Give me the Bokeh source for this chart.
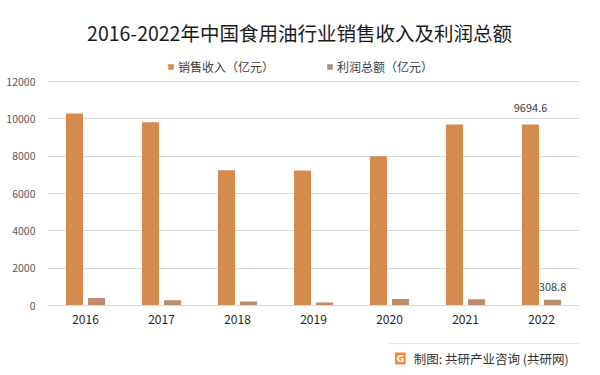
from bokeh.plotting import figure
from bokeh.models import (ColumnDataSource, FactorRange, Range1d, Legend, Label,
                          LegendItem, FixedTicker, NumeralTickFormatter)
from bokeh.layouts import column
from bokeh.transform import dodge
from bokeh.embed import file_html
from bokeh.resources import INLINE
from bokeh.core.properties import value

years = ["2016", "2017", "2018", "2019", "2020", "2021", "2022"]
revenue = [10290, 9815, 7240, 7230, 8000, 9690, 9694.6]
profit = [400, 280, 220, 160, 350, 340, 308.8]
y_ticks = [0, 2000, 4000, 6000, 8000, 10000, 12000]
series_names = ["销售收入（亿元）", "利润总额（亿元）"]
title_text = "2016-2022年中国食用油行业销售收入及利润总额"
footer_text = "制图: 共研产业咨询 (共研网)"

FONT = "Noto Sans CJK SC"
C_REV = "#D38C4D"
C_PRO = "#BF8C6B"

FOOT_H = 35
MAIN_H = 375 - FOOT_H
FRAME_BOTTOM = 305          # pixel row of value 0
PX_TOP_TICK = 81            # pixel row of value 12000
y_top = y_ticks[-1] * FRAME_BOTTOM / (FRAME_BOTTOM - PX_TOP_TICK)

# ---------------- main chart (frame reaches to the top of the canvas) ----------------
src = ColumnDataSource(dict(year=years, revenue=revenue, profit=profit))

p = figure(width=600, height=MAIN_H, output_backend="svg", toolbar_location=None,
           x_range=FactorRange(*years, range_padding=0), y_range=Range1d(0, y_top),
           min_border_left=47, min_border_right=21, min_border_top=0,
           min_border_bottom=MAIN_H - FRAME_BOTTOM)
p.outline_line_color = None
p.background_fill_color = "white"
p.border_fill_color = "white"

r1 = p.vbar(x=dodge("year", -0.145, range=p.x_range), top="revenue", width=0.225,
            source=src, fill_color=C_REV, line_color=None)
r2 = p.vbar(x=dodge("year", 0.145, range=p.x_range), top="profit", width=0.225,
            source=src, fill_color=C_PRO, line_color=None)

lab = ColumnDataSource(dict(year=[years[-1]], rev=[revenue[-1]], pro=[profit[-1]],
                            rt=[f"{revenue[-1]}"], pt=[f"{profit[-1]}"]))
p.text(x=dodge("year", -0.145, range=p.x_range), y="rev", text="rt", source=lab,
       text_align="center", text_baseline="bottom", y_offset=-13,
       text_font=value(FONT), text_font_size="11px", text_color="#404040")
p.text(x=dodge("year", 0.145, range=p.x_range), y="pro", text="pt", source=lab,
       text_align="center", text_baseline="bottom", y_offset=-9,
       text_font=value(FONT), text_font_size="11px", text_color="#404040")

p.yaxis.ticker = FixedTicker(ticks=y_ticks)
p.yaxis.formatter = NumeralTickFormatter(format="0")
p.yaxis.axis_line_color = None
p.yaxis.major_tick_line_color = None
p.yaxis.minor_tick_line_color = None
p.yaxis.major_tick_out = 0
p.yaxis.major_tick_in = 0
p.yaxis.axis_label_standoff = 0
p.yaxis.major_label_standoff = 12
p.yaxis.major_label_text_font = FONT
p.yaxis.major_label_text_font_size = "10.5px"
p.yaxis.major_label_text_color = "#595959"

p.xaxis.axis_line_color = "#D9D9D9"
p.xaxis.major_tick_line_color = None
p.xaxis.minor_tick_line_color = None
p.xaxis.major_tick_out = 0
p.xaxis.major_tick_in = 0
p.xaxis.major_label_standoff = 9
p.xaxis.major_label_text_font = FONT
p.xaxis.major_label_text_font_size = "12px"
p.xaxis.major_label_text_color = "#262626"

p.xgrid.grid_line_color = None
p.ygrid.grid_line_color = "#D9D9D9"
p.ygrid.grid_line_width = 1

# title (screen units: from frame's bottom-left corner, y upward)
p.add_layout(Label(x=299 - 47, y=FRAME_BOTTOM - 32, x_units="screen", y_units="screen",
                   text=title_text, text_align="center", text_baseline="middle",
                   text_font=FONT, text_font_size="19.5px", text_color="#1a1a1a"))

legend = Legend(items=[LegendItem(label=series_names[0], renderers=[r1]),
                       LegendItem(label=series_names[1], renderers=[r2])],
                orientation="horizontal", location=(167 - 47, FRAME_BOTTOM - 75),
                glyph_width=7, glyph_height=7, label_standoff=4, spacing=52,
                label_height=14, padding=0, margin=0,
                border_line_color=None, background_fill_alpha=0,
                label_text_font=FONT, label_text_font_size="12px",
                label_text_color="#404040")
p.add_layout(legend)

# ---------------- footer ----------------
f = figure(width=600, height=FOOT_H, output_backend="svg", toolbar_location=None,
           x_range=Range1d(0, 600), y_range=Range1d(FOOT_H, 0),
           x_axis_type=None, y_axis_type=None, min_border=0)
f.outline_line_color = None
f.xgrid.grid_line_color = None
f.ygrid.grid_line_color = None
f.background_fill_color = "white"
f.border_fill_color = "white"
f.segment(x0=[385], y0=[3], x1=[600], y1=[3], line_color="#E6E6E6", line_width=1)
f.quad(left=[392], right=[404], top=[12], bottom=[24], fill_color="#F28A3C", line_color=None)
f.text(x=[398], y=[18], text=["G"], text_align="center", text_baseline="middle",
       text_font=value("DejaVu Sans"), text_font_size="9px", text_font_style="bold",
       text_color="white")
f.text(x=[413], y=[17.5], text=[footer_text], text_align="left", text_baseline="middle",
       text_font=value(FONT), text_font_size="12.5px", text_color="#333333")

layout = column(p, f, spacing=0)
open("out.html", "w").write(file_html(layout, INLINE))
